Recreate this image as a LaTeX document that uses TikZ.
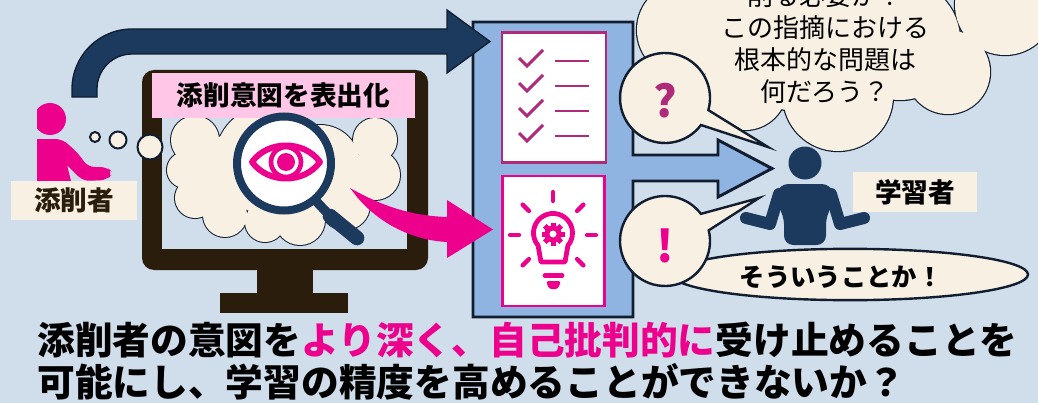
\documentclass[tikz,border=0pt]{standalone}
\usepackage{fontspec}
\newfontfamily\jp{Noto Sans CJK JP}
\usetikzlibrary{shapes.geometric}

\definecolor{bgblue}{RGB}{208,222,236}
\definecolor{navy}{RGB}{28,58,94}
\definecolor{inkline}{RGB}{16,30,48}
\definecolor{monitor}{RGB}{42,29,12}
\definecolor{cream}{RGB}{249,240,228}
\definecolor{pinklbl}{RGB}{255,198,232}
\definecolor{rose}{RGB}{236,0,140}
\definecolor{plum}{RGB}{176,42,122}
\definecolor{panelblue}{RGB}{143,180,226}

\begin{document}
\begin{tikzpicture}[x=0.75pt,y=-0.75pt,
  ink/.style={draw=inkline,line width=1.5pt},
  tag/.style={fill=cream,inner sep=0pt,font=\jp\bfseries\fontsize{20pt}{20pt}\selectfont},
  say/.style={font=\jp\fontsize{19.5pt}{24pt}\selectfont,align=center},
  card/.style={fill=white,inner sep=0pt,line width=2.2pt},
  message/.style={font=\jp\bfseries\fontsize{28.3pt}{30pt}\selectfont,anchor=west,inner sep=0pt}]
\useasboundingbox (0,0) rectangle (1038,403);
\clip (0,0) rectangle (1038,403);
\fill[bgblue] (0,0) rectangle (1038,403);

% monitor
\fill[monitor,rounded corners=9pt] (142,70) rectangle (428,270);
\fill[bgblue] (162,90) rectangle (407,249);
\fill[monitor] (257,266) rectangle (313,294);
\fill[monitor] (220,293) rectangle (348,313);

% thought cloud on the screen
\foreach \cx/\cy/\r in {195/140/24,185/170/18,195/198/20,225/215/22,265/222/20,300/220/25,
    345/205/25,375/175/25,375/140/22,270/160/55,230/170/35,320/165/40}
  \draw[ink] (\cx,\cy) circle (\r);
\foreach \cx/\cy/\r in {195/140/24,185/170/18,195/198/20,225/215/22,265/222/20,300/220/25,
    345/205/25,375/175/25,375/140/22,270/160/55,230/170/35,320/165/40}
  \fill[cream] (\cx,\cy) circle (\r);

\node[fill=pinklbl,minimum width=197pt,minimum height=34pt,inner sep=0pt,
  font=\jp\bfseries\fontsize{20pt}{20pt}\selectfont] (intent) at (283.5,95.5) {添削意図を表出化};

% magnifier with eye
\fill[white] (284,163.5) circle (44);
\draw[navy,line width=6pt] (284,163.5) circle (47);
\draw[navy,line width=7pt] (316,201) -- (332,218);
\draw[navy,line width=11pt,line cap=round] (330,216) -- (357,238);
\draw[rose,line width=4.5pt,line join=round,fill=white] (252,162) .. controls (268,140) and (304,140) .. (320,162)
  .. controls (304,184) and (268,184) .. (252,162) -- cycle;
\draw[rose,line width=3.5pt] (286,162) circle (15);
\fill[rose] (286,162) circle (9);

% reviewer
\draw[ink,fill=cream] (95,137) circle (5);
\draw[ink,fill=cream] (118,140) circle (8.5);
\draw[ink,fill=cream] (150,147) circle (12.5);
\begin{scope}
  \clip (37,90) rectangle (140,185);
  \fill[rose] (50,119) circle (16);
  \fill[rose,rounded corners=5pt] (30,139) -- (62,139) -- (77,152) -- (88,167) -- (107,167)
    -- (113,173) -- (107,180) -- (83,181) [sharp corners] -- (67,165) -- (72,185) -- (30,185) -- cycle;
\end{scope}
\node[tag,text=monitor,minimum width=94.5pt,minimum height=29.25pt] (reviewer) at (74,200.5) {添削者};

% feedback panel
\filldraw[fill=panelblue,draw=inkline,line width=2.2pt] (473,22) -- (633,22) -- (633,155) -- (718,155)
  -- (718,140) -- (772,168.5) -- (718,197) -- (718,181) -- (633,181) -- (633,317) -- (473,317) -- cycle;
\node[card,draw=plum,minimum width=78pt,minimum height=98pt] (checks) at (554,97.5) {};
\node[card,draw=rose,minimum width=77pt,minimum height=97.5pt] (idea) at (553.5,241) {};
\foreach \k in {0,...,3} {
  \draw[plum,line width=2.2pt] (519,58+25*\k) -- (527,66+25*\k) -- (543,50+25*\k);
  \draw[plum,line width=2.2pt] (555,61+25*\k) -- (589,61+25*\k);
}
\draw[rose,line width=3.6pt,line join=round] (541,262) -- (538.06,245.5) arc[start angle=140,end angle=400,radius=19.5]
  -- (565,262) -- cycle;
\draw[rose,line width=3.6pt,line cap=round] (545,275.5) -- (562,275.5);
\fill[rose,rounded corners=2pt] (546,281) -- (561,281) -- (558,289) -- (549,289) -- cycle;
\foreach \a in {0,45,135,180,225,270,315}
  \draw[rose,line width=3.2pt,line cap=round,shift={(553,235)}] (\a:34) -- (\a:43);
\fill[rose] (553,234) circle (8.5);
\foreach \a in {0,45,...,315}
  \fill[rose,rotate around={\a:(553,234)}] (550.5,222.5) rectangle (555.5,228);
\fill[white] (553,234) circle (3.5);

% arrows
\filldraw[fill=navy,draw=inkline,line width=1pt] (72,97) -- (72,89) arc[start angle=180,end angle=270,radius=60]
  -- (447,29) -- (447,10) -- (490,41.5) -- (447,73) -- (447,54) -- (132,54)
  arc[start angle=270,end angle=180,radius=35] -- (97,97) -- cycle;
\fill[rose] (350,188) .. controls (385,208) and (415,216) .. (447,217) -- (447,200) -- (493,229.5)
  -- (447,258) -- (447,242) .. controls (410,240) and (378,222) .. (357,197) -- cycle;

% learner's cloud
\foreach \cx/\cy/\r in {685/30/48,745/88/42,760/20/46,790/60/50,838/96/55,830/0/70,900/40/60,
    948/72/42,1005/5/50}
  \draw[ink,line width=1.8pt] (\cx,\cy) circle (\r);
\foreach \cx/\cy/\r in {685/30/48,745/88/42,760/20/46,790/60/50,838/96/55,830/0/70,900/40/60,
    948/72/42,1005/5/50}
  \fill[cream] (\cx,\cy) circle (\r);
\node[say] (doubt) at (825,44) {削る必要か？\\この指摘における\\根本的な問題は\\何だろう？};

\node[ellipse,ink,line width=1.8pt,fill=cream,minimum width=267pt,minimum height=38.5pt] (aha) at (850,274.5) {};
\node[font=\jp\bfseries\fontsize{19pt}{19pt}\selectfont] (ahatxt) at (841,277) {そういうことか！};

\filldraw[ink,line width=1.8pt,fill=cream] (665,98) ++(36.9:45) arc[start angle=36.9,end angle=375.6,radius=45]
  -- (768,147) -- cycle;
\node[font=\jp\bfseries\fontsize{33pt}{33pt}\selectfont,text=plum] (ask) at (665,101) {?};
\filldraw[ink,line width=1.8pt,fill=cream] (665,241) ++(-13.7:45) arc[start angle=-13.7,end angle=322.9,radius=45]
  -- (759,198) -- cycle;
\node[font=\jp\bfseries\fontsize{33pt}{33pt}\selectfont,text=rose] (got) at (665,246) {!};

% learner
\node[tag,minimum width=93pt,minimum height=30pt] (learner) at (915,192) {学習者};
\fill[navy] (805,163) circle (16.5);
\fill[navy,rounded corners=7pt] (774,200) -- (779,184) -- (831,184) -- (836,200) -- (826,215) -- (826,245)
  -- (784,245) -- (784,215) -- cycle;
\draw[navy,line width=9pt,line cap=round,line join=round] (779,194) -- (770,224) -- (746,218);
\draw[navy,line width=9pt,line cap=round,line join=round] (831,194) -- (840,224) -- (864,218);

% message
\node[message] (lineA) at (37,340) {添削者の意図を\textcolor{rose}{より深く、自己批判的に}受け止めることを};
\node[message] (lineB) at (37,382) {可能にし、学習の精度を高めることができないか？};
\end{tikzpicture}
\end{document}
